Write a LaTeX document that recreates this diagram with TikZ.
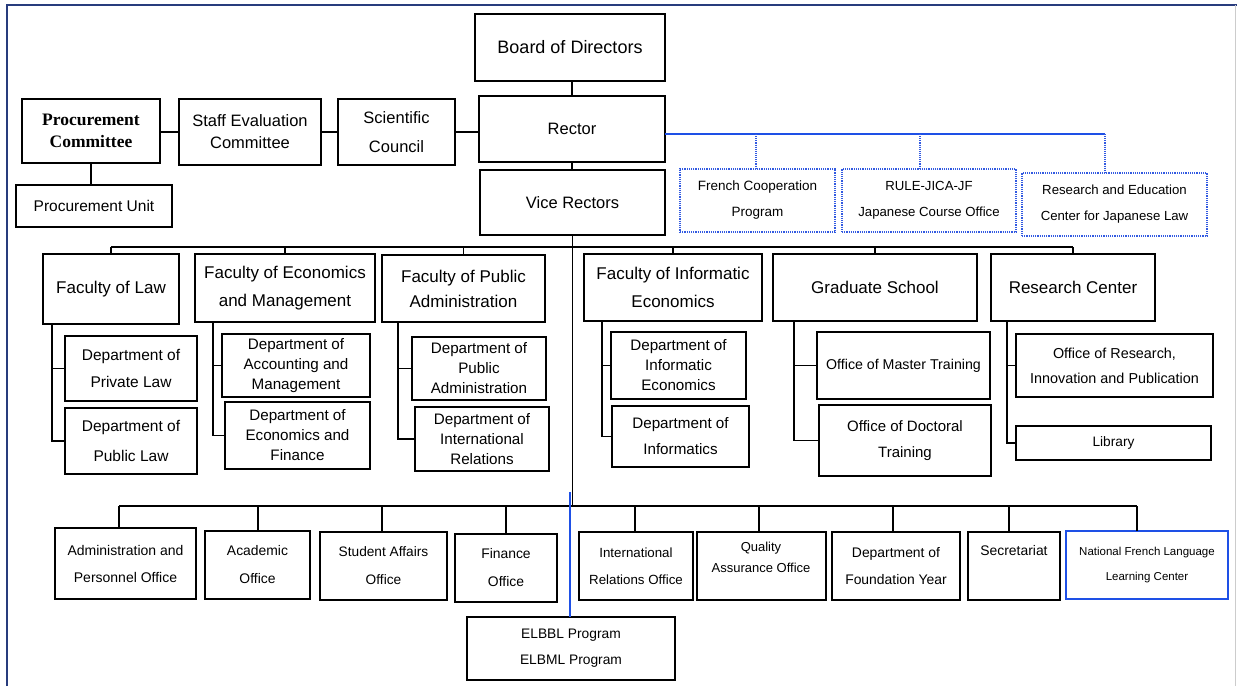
\documentclass[tikz,border=0pt]{standalone}
\usepackage{fontspec}
\setmainfont{Liberation Sans}
\newfontfamily\procfont{Liberation Serif}
\newcommand{\fs}[2]{\fontsize{#1}{#2}\selectfont}
\definecolor{navyb}{RGB}{40,60,125}
\definecolor{blueln}{RGB}{30,80,230}
\definecolor{dotbl}{RGB}{50,90,225}
\newcommand{\obox}[7][]{\node[box,#1,minimum width={(#5-#3)*1pt},minimum height={(#6-#4)*1pt}] (#2) at ({(#3+#5)/2},{(#4+#6)/2}) {#7};}
\tikzset{
  box/.style={draw=black,line width=1.3pt,inner sep=0pt,outer sep=0pt,align=center,font=\fs{15.5}{20}},
  dbox/.style={draw=dotbl,line width=1.2pt,densely dotted},
  nbox/.style={draw=blueln},
  lbl/.style={inner sep=0pt,align=center},
  conn/.style={line width=1.2pt,draw=black},
  bconn/.style={line width=1.2pt,draw=blueln},
  dconn/.style={line width=1.1pt,draw=dotbl,densely dotted},
  fac/.style={font=\fs{17}{28}},
  bot/.style={font=\fs{14}{27}}
}
\begin{document}
\begin{tikzpicture}[x=1pt,y=-1pt]
\useasboundingbox (0,0) rectangle (1237,686);
% frame
\draw[navyb,line width=2pt] (7,686) -- (7,5) -- (1237,5);
\draw[black!20,line width=1pt] (1235.5,5) -- (1235.5,686);
% top
\obox[font=\fs{18}{22}]{board}{475}{14}{665}{81}{Board of Directors}
\obox[font=\fs{16.5}{20}]{rector}{479}{96}{665}{162}{Rector}
\obox[font=\fs{16.5}{20}]{vice}{480}{170}{665}{235}{Vice Rectors}
\obox[font=\fs{16.5}{29}]{sci}{338}{99}{455}{165}{Scientific\\Council}
\obox[font=\fs{16.5}{22}]{staff}{179}{99}{321}{165}{Staff Evaluation\\Committee}
\obox[font={\procfont\bfseries\fs{17.5}{22}}]{proc}{22}{99}{160}{163}{Procurement\\Committee}
\obox[font=\fs{15.5}{20}]{unit}{16}{185}{172}{227}{Procurement Unit}
\obox[dbox,font=\fs{13.5}{26}]{french}{680}{169}{835}{232}{French Cooperation\\Program}
\obox[dbox,font=\fs{13.2}{26}]{rule}{842}{169}{1016}{232}{RULE-JICA-JF\\Japanese Course Office}
\obox[dbox,font=\fs{13.2}{26}]{jlaw}{1022}{173}{1207}{236}{Research and Education\\Center for Japanese Law}
% faculties
\obox[fac]{flaw}{43}{254}{179}{324}{Faculty of Law}
\obox[fac]{fecon}{195}{254}{375}{322}{Faculty of Economics\\and Management}
\obox[fac,font=\fs{17}{25}]{fpa}{382}{255}{545}{322}{Faculty of Public\\Administration}
\obox[fac]{finf}{584}{254}{762}{321}{Faculty of Informatic\\Economics}
\obox[fac]{grad}{773}{254}{977}{321}{Graduate School}
\obox[fac]{rc}{991}{254}{1155}{321}{Research Center}
% departments
\obox[font=\fs{15.5}{27}]{dpriv}{65}{336}{197}{401}{Department of\\Private Law}
\obox[font=\fs{15.5}{30}]{dpub}{65}{408}{197}{474}{Department of\\Public Law}
\obox[font=\fs{15.2}{20}]{dacc}{222}{334}{370}{397}{Department of\\Accounting and\\Management}
\obox[font=\fs{15.2}{20}]{defin}{225}{402}{370}{469}{Department of\\Economics and\\Finance}
\obox[font=\fs{15.2}{20}]{dpa}{412}{337}{546}{400}{Department of\\Public\\Administration}
\obox[font=\fs{15.2}{20}]{dir}{415}{407}{549}{471}{Department of\\International\\Relations}
\obox[font=\fs{15.2}{20}]{die}{611}{332}{746}{399}{Department of\\Informatic\\Economics}
\obox[font=\fs{15.2}{26}]{dinf}{612}{406}{749}{467}{Department of\\Informatics}
\obox[font=\fs{14.2}{20}]{omt}{817}{332}{990}{399}{Office of Master Training}
\obox[font=\fs{15}{26}]{odt}{819}{405}{991}{476}{Office of Doctoral\\Training}
\obox[font=\fs{14.4}{25}]{ori}{1016}{334}{1213}{397}{Office of Research,\\Innovation and Publication}
\obox[font=\fs{13.7}{20}]{lib}{1016}{426}{1211}{460}{Library}
% bottom offices
\obox[bot]{adm}{55}{528}{196}{599}{Administration and\\Personnel Office}
\obox[bot,font=\fs{13.9}{28}]{acad}{205}{531}{310}{599}{Academic\\Office}
\obox[bot,font=\fs{13.7}{28}]{stu}{320}{532}{447}{600}{Student Affairs\\Office}
\obox[bot,font=\fs{13.9}{28}]{fin}{455}{534}{557}{602}{Finance\\Office}
\obox[bot,font=\fs{13.3}{27}]{iro}{579}{532}{693}{600}{International\\Relations Office}
\obox[bot]{qa}{697}{532}{826}{600}{}
\node[lbl,font=\fs{13}{21}] (qat) at (761,557.5) {Quality\\Assurance Office};
\obox[bot,font=\fs{13.9}{27}]{dfy}{832}{532}{960}{600}{Department of\\Foundation Year}
\obox[bot]{sec}{968}{532}{1060}{600}{}
\node[lbl,font=\fs{13.9}{20}] (sect) at (1014,551) {Secretariat};
\obox[nbox,font=\fs{11.5}{25}]{nfl}{1066}{531}{1228}{599}{National French Language\\Learning Center}
\obox[font=\fs{13.8}{26}]{elb}{467}{617}{675}{680}{ELBBL Program\\ELBML Program}
% coordinates
\coordinate (tb) at (0,247);
\coordinate (bb) at (0,506);
\coordinate (bl) at (1105,134);
\coordinate (b1) at (756,134);
\coordinate (b2) at (920,134);
\coordinate (bj) at (570,492);
% top chain
\draw[conn] (rector.north) -- (rector.north|-board.south);
\draw[conn] (rector.south) -- (rector.south|-vice.north);
\draw[conn] (vice.south) -- (vice.south|-bb);
\draw[conn] (rector.west|-sci.east) -- (sci.east);
\draw[conn] (sci.west) -- (staff.east);
\draw[conn] (staff.west) -- (staff.west-|proc.east);
\draw[conn] (proc.south) -- (proc.south|-unit.north);
% blue cooperation links
\draw[bconn] (rector.east|-bl) -- (bl);
\draw[dconn] (b1) -- (b1|-french.north);
\draw[dconn] (b2) -- (b2|-rule.north);
\draw[dconn] (bl) -- (bl|-jlaw.north);
% faculties bar
\draw[conn] (flaw.north|-tb) -- (rc.north|-tb);
\foreach \n in {flaw,fecon,fpa,finf,grad,rc} \draw[conn] (\n.north|-tb) -- (\n.north);
% faculty branches
\foreach \f/\a/\b/\x in {flaw/dpriv/dpub/52, fecon/dacc/defin/213, fpa/dpa/dir/398, finf/die/dinf/602, grad/omt/odt/794, rc/ori/lib/1007}{
  \coordinate (bx) at (\x,0);
  \draw[conn] (bx|-\f.south) |- (\b.west);
  \draw[conn] (bx|-\a.west) -- (\a.west);
}
% bottom bar
\coordinate (bbl) at (119,506);
\coordinate (bbr) at (1137,506);
\draw[conn] (bbl) -- (bbr);
\foreach \n/\x in {adm/119, acad/258, stu/382, fin/506, iro/635, qa/759, dfy/893, sec/1009, nfl/1137}{
  \coordinate (dp) at (\x,506);
  \draw[conn] (dp) -- (dp|-\n.north);
}
% blue line to ELBBL
\draw[bconn] (bj) -- (bj|-elb.north);
\end{tikzpicture}
\end{document}
